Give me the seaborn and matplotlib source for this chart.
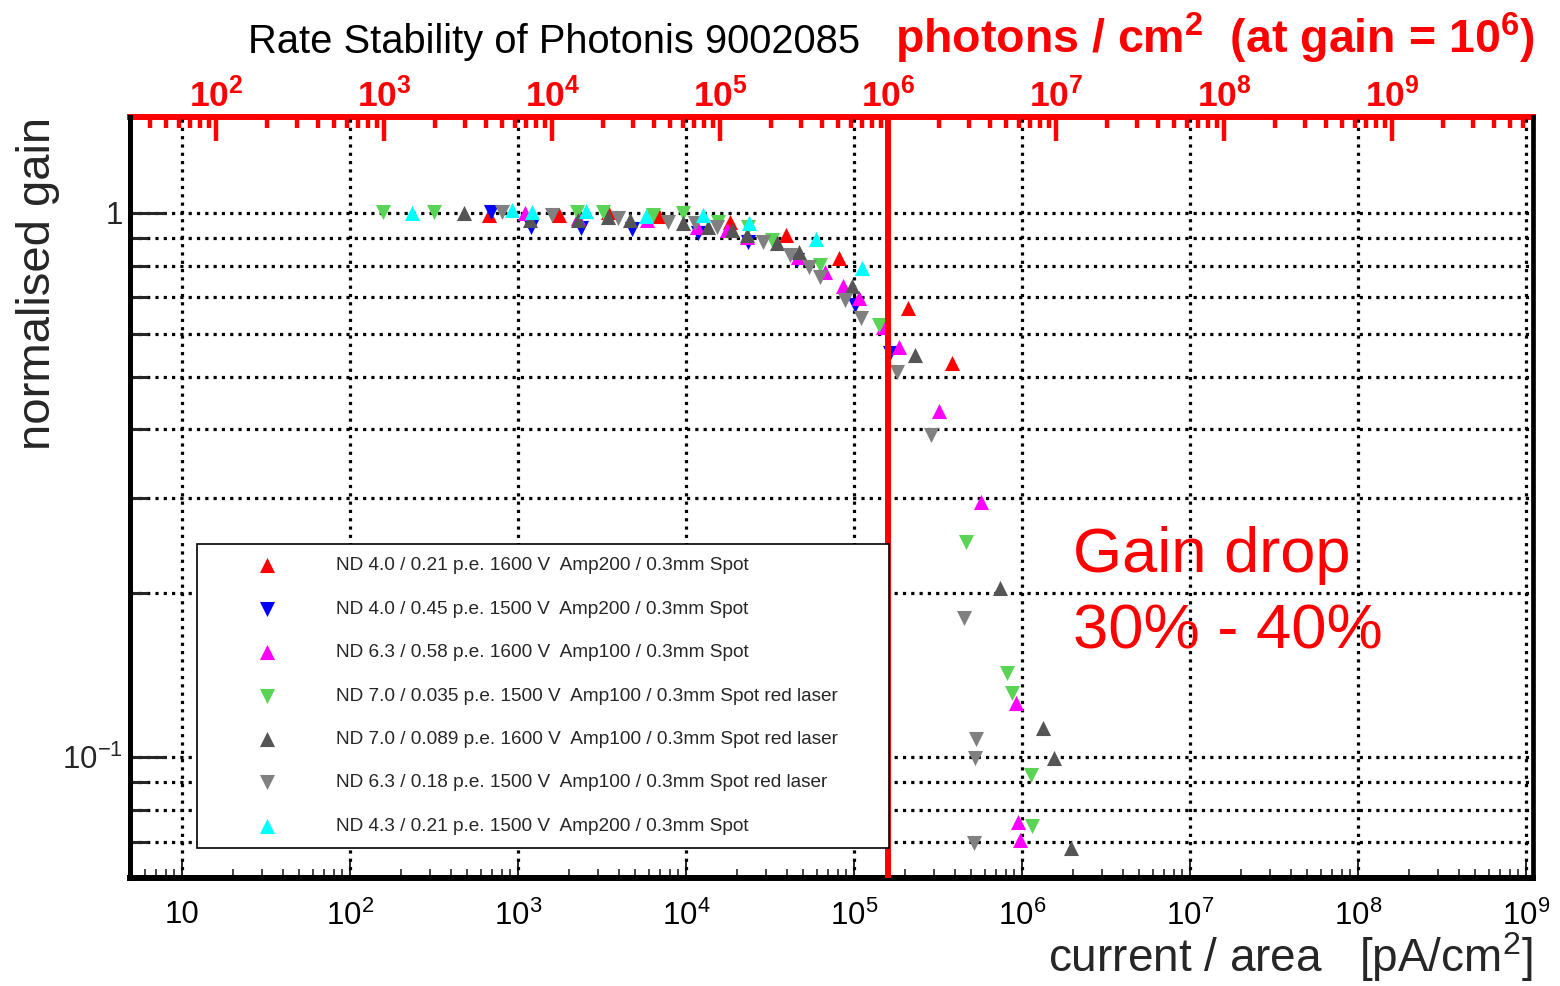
import numpy as np
import matplotlib
matplotlib.use("Agg")
import matplotlib.pyplot as plt
import seaborn as sns
from matplotlib.ticker import LogLocator, FixedLocator, FuncFormatter, NullFormatter

# ---------------- data ----------------
labels = [
    "ND 4.0 / 0.21 p.e. 1600 V  Amp200 / 0.3mm Spot",
    "ND 4.0 / 0.45 p.e. 1500 V  Amp200 / 0.3mm Spot",
    "ND 6.3 / 0.58 p.e. 1600 V  Amp100 / 0.3mm Spot",
    "ND 7.0 / 0.035 p.e. 1500 V  Amp100 / 0.3mm Spot red laser",
    "ND 7.0 / 0.089 p.e. 1600 V  Amp100 / 0.3mm Spot red laser",
    "ND 6.3 / 0.18 p.e. 1500 V  Amp100 / 0.3mm Spot red laser",
    "ND 4.3 / 0.21 p.e. 1500 V  Amp200 / 0.3mm Spot",
]
colors = ["#ff0000", "#0000ff", "#ff00ff", "#59d454", "#555555", "#808080", "#00ffff"]
markers = ["^", "v", "^", "v", "^", "v", "^"]

red_x = [672, 1754, 3434, 6906, 18270, 39380, 81400, 209600, 383200]
red_y = [0.992, 0.992, 1.004, 0.987, 0.963, 0.911, 0.827, 0.669, 0.530]

blue_x = [691, 1194, 2371, 4775, 11780, 23400, 45800, 101400, 163700]
blue_y = [1.004, 0.942, 0.938, 0.934, 0.919, 0.884, 0.820, 0.678, 0.553]

magenta_x = [1101, 2276, 5860, 11620, 17540, 23080, 46420, 67200, 86100, 107100,
             148900, 185300, 320500, 570000, 920700, 946500, 973000]
magenta_y = [1.0, 0.979, 0.971, 0.942, 0.931, 0.903, 0.830, 0.779, 0.734, 0.698,
             0.617, 0.567, 0.432, 0.294, 0.126, 0.0760, 0.0706]

green_x = [157, 316, 2245, 3206, 6367, 9594, 15500, 23400, 32510, 62800,
           140900, 464400, 814700, 871000, 1132000, 1148000]
green_y = [1.004, 1.004, 1.004, 1.004, 0.992, 1.0, 0.963, 0.942, 0.892, 0.803,
           0.623, 0.249, 0.143, 0.131, 0.0927, 0.0748]

dgray_x = [477, 1179, 2276, 3434, 4642, 9594, 13520, 18790, 23080, 34830,
           47100, 97300, 230700, 739600, 1335000, 1549000, 1958000]
dgray_y = [1.0, 0.971, 0.971, 0.983, 0.971, 0.958, 0.942, 0.931, 0.911, 0.881,
           0.848, 0.734, 0.548, 0.205, 0.113, 0.0996, 0.0681]

gray_x = [803, 1594, 3940, 7810, 11320, 15300, 28730, 41590, 53950, 62800,
          88400, 110100, 180300, 287300, 451600, 532000, 525000, 517800]
gray_y = [1.004, 0.992, 0.979, 0.963, 0.958, 0.942, 0.884, 0.837, 0.796, 0.763,
          0.692, 0.641, 0.510, 0.391, 0.180, 0.108, 0.0996, 0.0695]

cyan_x = [234, 921, 1211, 2541, 5777, 12620, 23710, 59400, 111600]
cyan_y = [1.0, 1.013, 1.004, 1.008, 0.987, 0.992, 0.958, 0.896, 0.792]

series_x = [red_x, blue_x, magenta_x, green_x, dgray_x, gray_x, cyan_x]
series_y = [red_y, blue_y, magenta_y, green_y, dgray_y, gray_y, cyan_y]

x_decades = [1, 2, 3, 4, 5, 6, 7, 8, 9]          # bottom axis labels 10 .. 10^9
y_decades = [-1, 0]                              # left axis labels 10^-1, 1
photon_decades = [2, 3, 4, 5, 6, 7, 8, 9]        # top axis labels 10^2 .. 10^9

PHOTONS_PER_PA = 6.24        # photons/cm^2 per pA/cm^2 at gain 1e6
GAIN_DROP_PHOTONS = 1e6      # red marker line on the photon scale
x_limits = (4.9, 1.1e9)
y_limits = (0.06, 1.5)

# ---------------- style ----------------
sns.set_style("white")
plt.rcParams["font.family"] = ["Liberation Sans", "DejaVu Sans"]
plt.rcParams["mathtext.fontset"] = "custom"
plt.rcParams["mathtext.rm"] = "Liberation Sans"
plt.rcParams["mathtext.it"] = "Liberation Sans:italic"
plt.rcParams["mathtext.bf"] = "Liberation Sans:bold"
plt.rcParams["mathtext.sf"] = "Liberation Sans"

fig = plt.figure(figsize=(15.6, 9.86), dpi=100)
ax = fig.add_axes([130 / 1560, 108 / 986, 1403 / 1560, 761 / 986])

for xs, ys, c, m, lab in zip(series_x, series_y, colors, markers, labels):
    sns.scatterplot(x=xs, y=ys, ax=ax, color=c, marker=m, s=118,
                    linewidth=0, label=lab, legend=False, zorder=3)

ax.set_xscale("log")
ax.set_yscale("log")
ax.set_xlim(*x_limits)
ax.set_ylim(*y_limits)

# ticks / formatters
def x_fmt(v, pos):
    e = int(round(np.log10(v)))
    if e == 1:
        return "10"
    return r"$\mathregular{10^{%d}}$" % e

def y_fmt(v, pos):
    e = int(round(np.log10(v)))
    if e == 0:
        return "1"
    return r"$\mathregular{10^{%d}}$" % e

ax.xaxis.set_major_locator(FixedLocator([10.0 ** e for e in x_decades]))
ax.xaxis.set_minor_locator(LogLocator(base=10, subs=np.arange(2, 10), numticks=300))
ax.xaxis.set_major_formatter(FuncFormatter(x_fmt))
ax.xaxis.set_minor_formatter(NullFormatter())
ax.yaxis.set_major_locator(FixedLocator([10.0 ** e for e in y_decades]))
ax.yaxis.set_minor_locator(LogLocator(base=10, subs=np.arange(2, 10), numticks=300))
ax.yaxis.set_major_formatter(FuncFormatter(y_fmt))
ax.yaxis.set_minor_formatter(NullFormatter())

ax.tick_params(axis="x", which="major", direction="in", length=13, width=1.2,
               labelsize=22.5, pad=16, bottom=True, top=False, colors="black")
ax.tick_params(axis="x", which="minor", direction="in", length=6.5, width=1.2,
               bottom=True, top=False)
ax.tick_params(axis="y", which="major", direction="in", length=26, width=2.2,
               labelsize=22.5, pad=5, left=True, right=False)
ax.tick_params(axis="y", which="minor", direction="in", length=13, width=2.2,
               left=True, right=False)

dot = (0, (1, 1.6))
ax.grid(True, which="major", axis="x", color="black", linestyle=dot, linewidth=2.3)
ax.grid(True, which="both", axis="y", color="black", linestyle=dot, linewidth=2.3)
ax.set_axisbelow(True)

for side, lw in (("left", 3.6), ("bottom", 4.3), ("right", 3.4)):
    ax.spines[side].set_color("black")
    ax.spines[side].set_linewidth(lw)
    ax.spines[side].set_visible(True)
ax.spines["top"].set_visible(False)

# top photon axis
sec = ax.secondary_xaxis("top", functions=(lambda x: x * PHOTONS_PER_PA,
                                           lambda x: x / PHOTONS_PER_PA))
sec.xaxis.set_major_locator(FixedLocator([10.0 ** e for e in photon_decades]))
sec.xaxis.set_minor_locator(LogLocator(base=10, subs=np.arange(2, 10), numticks=300))
sec.xaxis.set_major_formatter(FuncFormatter(lambda v, p: r"$\mathbf{10^{%d}}$" % int(round(np.log10(v)))))
sec.xaxis.set_minor_formatter(NullFormatter())
sec.spines["top"].set_color("red")
sec.spines["top"].set_linewidth(4.3)
sec.tick_params(axis="x", which="major", direction="in", length=17, width=3.2,
                color="red", labelcolor="red", labelsize=25.5, pad=2)
sec.tick_params(axis="x", which="minor", direction="in", length=8, width=3.2,
                color="red")

# vertical marker line at 1e6 photons/cm^2
ax.axvline(GAIN_DROP_PHOTONS / PHOTONS_PER_PA, color="red", linewidth=4.3, zorder=4)

# labels
ax.set_xlabel(r"current / area   [pA/cm$^{2}$]", fontsize=33, loc="right")
ax.xaxis.set_label_coords(1.0, -0.068)
ax.set_ylabel("normalised gain", fontsize=34, loc="top")
ax.yaxis.set_label_coords(-0.05, 1.0)

fig.text(248 / 1560, 1 - 42 / 986, "Rate Stability of Photonis 9002085",
         fontsize=28.7, ha="left", va="center", color="black")
fig.text(1535 / 1560, 1 - 38 / 986,
         r"photons / cm$^{\mathbf{2}}$  (at gain = 10$^{\mathbf{6}}$)",
         fontsize=33.5, fontweight="bold", ha="right", va="center", color="red")

ax.text(0.672, 0.402, "Gain drop", transform=ax.transAxes, fontsize=45.5,
        color="red", ha="left", va="baseline", zorder=6)
ax.text(0.672, 0.302, "30% - 40%", transform=ax.transAxes, fontsize=45.5,
        color="red", ha="left", va="baseline", zorder=6)

# legend
handles, labs = ax.get_legend_handles_labels()
leg = ax.legend(handles, labs, loc="lower left",
                bbox_to_anchor=(67 / 1403, 30 / 761, 692 / 1403, 300 / 761),
                mode="expand", borderaxespad=0, fontsize=13.7, frameon=True,
                fancybox=False, framealpha=1, edgecolor="black",
                borderpad=0.7, labelspacing=1.37, handlelength=6.0,
                handletextpad=0.6, scatterpoints=1)
leg.get_frame().set_linewidth(1.2)
leg.set_zorder(5)

fig.savefig("out.png", dpi=100)
